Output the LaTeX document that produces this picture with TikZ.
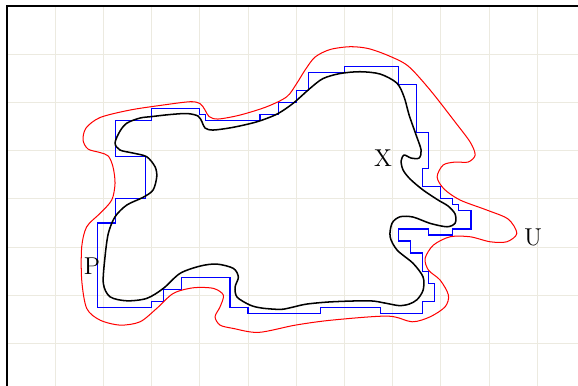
\documentclass[tikz,border=0pt]{standalone}
\begin{document}
\begin{tikzpicture}[x=1cm, y=-1cm,
    gridline/.style={draw=gridcolor, line width=0.6pt},
    setX/.style={black, line width=0.9pt},
    setU/.style={red, line width=0.6pt},
    setP/.style={blue, line width=0.7pt},
    setlabel/.style={font=\Large, inner sep=0pt}]
  % -- colours ---------------------------------------------------------------
  \definecolor{gridcolor}{RGB}{236,234,224}

  \useasboundingbox (-0.1452,-0.1245) rectangle (11.846,7.863);
  \clip (-0.1452,-0.1245) rectangle (11.846,7.863);

  % -- background grid and frame --------------------------------------------
  \draw[gridline] (0,0) grid (12,8);
  \draw[line width=0.8pt] (12,0) -- (0,0) -- (0,8);

  % -- staircase P (eighths of a cell) ---------------------------------------
  \begin{scope}[scale=0.125]
    \draw[setP] (18,19) -- (24,19) -- (24,17) -- (32,17) -- (32,18) -- (33,18)
      -- (33,19) -- (42,19) -- (42,18) -- (45,18) -- (45,16) -- (48,16)
      -- (48,14) -- (50,14) -- (50,11) -- (56,11) -- (56,10) -- (65,10)
      -- (65,13) -- (68,13) -- (68,21) -- (70,21) -- (70,27) -- (69,27)
      -- (69,30) -- (72,30) -- (72,32) -- (74,32) -- (74,33) -- (75,33)
      -- (75,34) -- (77,34) -- (77,37) -- (74,37) -- (74,38) -- (70,38)
      -- (70,37) -- (65,37) -- (65,39) -- (67,39) -- (67,41) -- (69,41)
      -- (69,44) -- (70,44) -- (70,46) -- (71,46) -- (71,49) -- (69,49)
      -- (69,51) -- (62,51) -- (62,50) -- (52,50) -- (52,51) -- (40,51)
      -- (40,50) -- (37,50) -- (37,45) -- (29,45) -- (29,47) -- (26,47)
      -- (26,49) -- (24,49) -- (24,50) -- (15,50) -- (15,36) -- (18,36)
      -- (18,32) -- (23,32) -- (23,25) -- (18,25) -- cycle;
  \end{scope}

  % -- curves U and X (pixel units) ------------------------------------------
  \begin{scope}[shift={(-0.1452,-0.1245)}, scale=0.020747]
    \draw[setU] plot[smooth cycle] coordinates {
      (86,128) (100,117.5) (130,110) (163,105)
      (190,101.7) (200,103.5) (205,110) (209,116.5) (218,119) (240,115)
      (266.7,106.7) (286.7,96.7) (296.7,83.3) (305,70) (315,57) (330,49.5)
      (350,46.7) (368,48.5) (388,55.5) (408,66) (430,90) (455,122)
      (470,142) (475,155) (468,162) (455,162)
      (443,165) (437,177) (444,189) (460,200) (486.7,210) (508,219)
      (516.7,233.3) (506.7,241.7) (490,241.7) (470,236.7) (450,236.7)
      (433.3,245) (425,258.3) (428.3,270) (440,280) (448.3,295) (445,306.7)
      (430,316.7) (412,321.7) (387.7,316) (332,320) (295.4,325)
      (258.5,332.3) (233,328.3) (220,325) (215,316.7)
      (220,306.7) (223.3,295) (213.3,288.3) (193.3,287.7) (173.3,293.3)
      (156.7,308.3) (140,321.7) (120,325) (100,320) (86.7,308.3) (81.7,280)
      (81.7,246.7) (86.7,226.7) (100,213.3) (111.7,200) (115,183.3)
      (113,167) (108.3,156) (100,152.5) (88,149) (83,140)};
    \draw[setX] plot[smooth cycle] coordinates {
      (115,143) (120,131) (127,123) (140,118) (152,116.5) (170,114.5)
      (187,113.5) (198,116) (202,122) (205,128) (213,130) (233,127.3)
      (257,121.7) (277,114) (293,103.3) (310,88.3) (323,78.5) (340,73.5)
      (360,71.7) (380,74) (396.7,83) (404,97) (409,115) (416,135)
      (421,150) (419,158) (411,158) (404,155) (401,161) (403,170)
      (410,179) (423,190) (438,200) (448,206)
      (455,214) (455,223) (447,226.7) (430,223.3) (413,217) (400,216.7)
      (392,223) (390,236.7) (397,250) (413,263.3) (423,277) (423,290)
      (417,299.5) (409,304) (399,305.5) (385,303) (369,300.7) (332,301.7)
      (306.5,304) (291.7,307.3) (280.6,309.3) (262,308) (250,305) (237,297)
      (235,287) (238.3,277) (233.3,268.3) (216.7,264) (200,266) (180,273.3)
      (163.3,288.3) (146.7,298.3) (126.7,300.7) (110,296.7) (103.3,283.3)
      (105,256.7) (108.3,233.3) (115,216.7) (126.7,205) (143,197.3)
      (153,190) (156.7,176.7) (155,166.7) (146.7,156.7) (133,153) (120,150)};

    % -- labels --------------------------------------------------------------
    \node[setlabel] (labX) at (383,158) {X};
    \node[setlabel] (labU) at (533,237) {U};
    \node[setlabel] (labP) at (92,266) {P};
  \end{scope}
\end{tikzpicture}
\end{document}
